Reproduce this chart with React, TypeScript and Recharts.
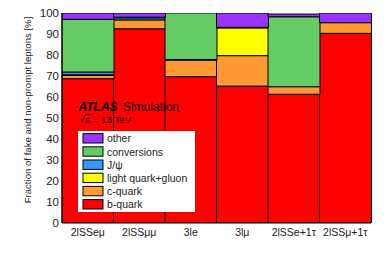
import React from 'react';
import { BarChart, Bar, XAxis, YAxis } from 'recharts';

const categories = ['2lSSeμ', '2lSSμμ', '3le', '3lμ', '2lSSe+1τ', '2lSSμ+1τ'];
const bQuark = [68.7, 92.5, 69.7, 65.2, 61.3, 90.3];
const cQuark = [1.6, 4.2, 7.9, 14.5, 3.6, 5.1];
const lightQuark = [0.3, 0, 0.2, 13.2, 0, 0];
const jpsi = [1.3, 1.0, 0, 0, 0, 0];
const conversions = [25.1, 0.3, 22.2, 0.3, 33.3, 0];
const other = [3.0, 2.0, 0, 6.8, 1.3, 4.6];

const yTicks = [0, 10, 20, 30, 40, 50, 60, 70, 80, 90, 100];
const yMinorTicks = [
  0, 2, 4, 6, 8, 10, 12, 14, 16, 18, 20, 22, 24, 26, 28, 30, 32, 34, 36, 38, 40, 42, 44, 46, 48, 50,
  52, 54, 56, 58, 60, 62, 64, 66, 68, 70, 72, 74, 76, 78, 80, 82, 84, 86, 88, 90, 92, 94, 96, 98, 100,
];
const binEdges = [1, 2, 3, 4, 5];

const yTitle = 'Fraction of fake and non-prompt leptons [%]';

// stacking order: bottom to top
const series = [
  { key: 'b', name: 'b-quark', color: '#ff0000', values: bQuark },
  { key: 'c', name: 'c-quark', color: '#ff9933', values: cQuark },
  { key: 'light', name: 'light quark+gluon', color: '#ffff00', values: lightQuark },
  { key: 'jpsi', name: 'J/ψ', color: '#3399ff', values: jpsi },
  { key: 'conv', name: 'conversions', color: '#66cc66', values: conversions },
  { key: 'other', name: 'other', color: '#9933ff', values: other },
];

const data = categories.map((cat, i) => {
  const row: Record<string, string | number> = { cat };
  series.forEach((s) => {
    row[s.key] = s.values[i];
  });
  return row;
});

const FONT = '"Liberation Sans", Arial, Helvetica, sans-serif';

export default function App() {
  const legendItems = [...series].reverse();
  return (
    <div style={{ position: 'absolute', left: 0, top: 0, width: 390, height: 265, background: '#fff' }}>
      <BarChart
        width={390}
        height={265}
        data={data}
        margin={{ top: 13, right: 19, bottom: 0, left: 0 }}
        barCategoryGap={0}
        barGap={0}
      >
        <XAxis
          xAxisId="cat"
          dataKey="cat"
          type="category"
          height={42}
          interval={0}
          tickLine={false}
          tickSize={0}
          tickMargin={6}
          axisLine={{ stroke: '#000', strokeWidth: 1 }}
          tick={{ fontSize: 10.5, fill: '#222', fontFamily: FONT }}
        />
        <XAxis
          xAxisId="edges"
          type="number"
          domain={[0, 6]}
          allowDataOverflow
          ticks={binEdges}
          mirror
          height={0}
          tickSize={6}
          tick={false}
          axisLine={false}
          tickLine={{ stroke: '#000', strokeWidth: 1 }}
        />
        <XAxis
          xAxisId="top"
          orientation="top"
          type="number"
          domain={[0, 6]}
          allowDataOverflow
          ticks={[]}
          height={0}
          tick={false}
          tickLine={false}
          axisLine={{ stroke: '#999', strokeWidth: 1.5 }}
        />
        <YAxis
          yAxisId="main"
          type="number"
          domain={[0, 100]}
          allowDataOverflow
          ticks={yTicks}
          width={62}
          tickLine={false}
          tickSize={0}
          tickMargin={3}
          axisLine={{ stroke: '#000', strokeWidth: 1 }}
          tick={{ fontSize: 11.5, fill: '#222', fontFamily: FONT }}
        />
        <YAxis
          yAxisId="lmaj"
          type="number"
          domain={[0, 100]}
          allowDataOverflow
          ticks={yTicks}
          mirror
          width={0}
          tickSize={9}
          tick={false}
          axisLine={false}
          tickLine={{ stroke: '#000', strokeWidth: 1 }}
        />
        <YAxis
          yAxisId="lmin"
          type="number"
          domain={[0, 100]}
          allowDataOverflow
          ticks={yMinorTicks}
          mirror
          width={0}
          tickSize={4}
          tick={false}
          axisLine={false}
          tickLine={{ stroke: '#000', strokeWidth: 1 }}
        />
        <YAxis
          yAxisId="rmaj"
          orientation="right"
          type="number"
          domain={[0, 100]}
          allowDataOverflow
          ticks={yTicks}
          mirror
          width={0}
          tickSize={9}
          tick={false}
          axisLine={{ stroke: '#000', strokeWidth: 1 }}
          tickLine={{ stroke: '#000', strokeWidth: 1 }}
        />
        <YAxis
          yAxisId="rmin"
          orientation="right"
          type="number"
          domain={[0, 100]}
          allowDataOverflow
          ticks={yMinorTicks}
          mirror
          width={0}
          tickSize={4}
          tick={false}
          axisLine={false}
          tickLine={{ stroke: '#000', strokeWidth: 1 }}
        />
        {series.map((s) => (
          <Bar
            key={s.key}
            dataKey={s.key}
            name={s.name}
            stackId="stack"
            xAxisId="cat"
            yAxisId="main"
            fill={s.color}
            stroke="#000"
            strokeWidth={1}
            isAnimationActive={false}
          />
        ))}
      </BarChart>
      <svg
        width={390}
        height={265}
        style={{ position: 'absolute', left: 0, top: 0, pointerEvents: 'none' }}
        fontFamily={FONT}
      >
        <text
          x={27}
          y={110}
          transform="rotate(-90 27 110)"
          textAnchor="middle"
          dominantBaseline="central"
          fontSize={9.6}
          fill="#222"
        >
          {yTitle}
        </text>
        <text x={78.5} y={110.5} fontSize={12} fill="#000" fontWeight="bold" fontStyle="italic">
          ATLAS
        </text>
        <text x={123} y={110.5} fontSize={12} fill="#000">
          Simulation
        </text>
        <text x={79.5} y={123} fontSize={9.8} fill="#000">
          √<tspan style={{ textDecoration: 'overline' }}>s</tspan> = 13 TeV
        </text>
        <rect x={78} y={131} width={117} height={81} fill="#fff" />
        {legendItems.map((s, i) => {
          const cy = 138.3 + i * 13.2;
          return (
            <g key={s.key}>
              <rect x={83} y={cy - 4.7} width={20} height={9.4} fill={s.color} stroke="#000" strokeWidth={1} />
              <text x={107} y={cy} dominantBaseline="central" fontSize={10.5} fill="#222">
                {s.name}
              </text>
            </g>
          );
        })}
      </svg>
    </div>
  );
}
